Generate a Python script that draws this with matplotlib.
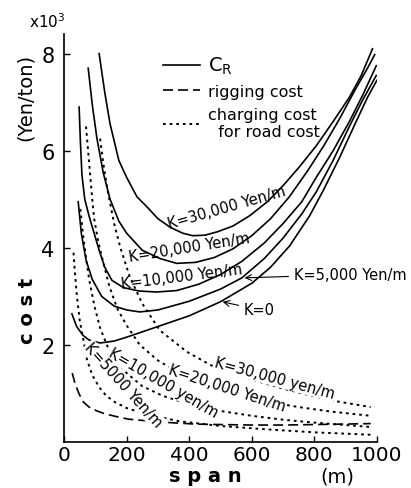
import matplotlib
matplotlib.use("Agg")
import matplotlib.pyplot as plt

# C_R curves (span in m, cost in 10^3 yen/ton)
cr_k0_x = [25, 40, 60, 80, 115, 160, 200, 300, 400, 500, 600, 660, 721, 785, 830, 880, 930, 970, 1000]
cr_k0_y = [2.64, 2.38, 2.2, 2.1, 2.04, 2.08, 2.16, 2.38, 2.6, 2.89, 3.27, 3.6, 4.04, 4.66, 5.2, 5.85, 6.55, 7.1, 7.45]

cr_k5_x = [45, 55, 70, 90, 120, 160, 200, 242, 300, 400, 500, 568, 640, 700, 760, 806, 860, 912, 955, 998]
cr_k5_y = [4.95, 4.3, 3.75, 3.35, 3.0, 2.8, 2.72, 2.68, 2.72, 2.9, 3.15, 3.38, 3.78, 4.2, 4.7, 5.15, 5.8, 6.5, 7.05, 7.55]

cr_k10_x = [48, 52, 57, 66, 80, 96, 112, 130, 153, 190, 240, 296, 360, 430, 500, 568, 640, 700, 760, 806, 860, 912, 955, 998]
cr_k10_y = [6.9, 6.2, 5.5, 5.0, 4.65, 4.3, 3.95, 3.6, 3.33, 3.18, 3.11, 3.09, 3.12, 3.25, 3.45, 3.72, 4.1, 4.5, 4.95, 5.45, 6.0, 6.6, 7.15, 7.75]

cr_k20_x = [77, 90, 105, 125, 147, 175, 200, 250, 306, 360, 420, 480, 540, 600, 660, 720, 780, 830, 880, 930, 970, 993]
cr_k20_y = [7.7, 6.95, 6.25, 5.55, 5.0, 4.55, 4.3, 3.95, 3.78, 3.68, 3.7, 3.8, 3.98, 4.25, 4.6, 5.05, 5.6, 6.1, 6.65, 7.25, 7.7, 7.98]

cr_k30_x = [112, 130, 147, 175, 200, 233, 264, 300, 340, 380, 411, 450, 490, 540, 593, 650, 700, 750, 806, 860, 912, 950, 986]
cr_k30_y = [8.0, 7.2, 6.55, 5.8, 5.45, 5.05, 4.85, 4.6, 4.42, 4.3, 4.25, 4.26, 4.33, 4.45, 4.66, 4.95, 5.28, 5.65, 6.1, 6.6, 7.1, 7.55, 8.1]

# rigging cost
rig_x = [26, 35, 48, 62, 80, 105, 131, 170, 207, 260, 313, 418, 500, 600, 700, 800, 900, 980]
rig_y = [1.42, 1.2, 0.99, 0.82, 0.72, 0.64, 0.58, 0.52, 0.47, 0.44, 0.41, 0.37, 0.36, 0.35, 0.35, 0.36, 0.37, 0.38]

# charging cost for road cost
ch_k5_x = [30, 35, 41, 50, 64, 73, 90, 112, 135, 163, 200, 258, 367, 500, 650, 800, 980]
ch_k5_y = [3.9, 3.45, 3.0, 2.5, 2.02, 1.7, 1.38, 1.13, 0.95, 0.82, 0.7, 0.58, 0.43, 0.33, 0.26, 0.2, 0.15]

ch_k10_x = [52, 60, 70, 80, 97, 115, 140, 163, 200, 250, 316, 400, 500, 600, 700, 800, 900, 980]
ch_k10_y = [4.8, 4.3, 3.8, 3.35, 2.8, 2.35, 1.95, 1.7, 1.42, 1.15, 0.95, 0.78, 0.64, 0.54, 0.46, 0.4, 0.35, 0.31]

ch_k20_x = [70, 80, 90, 96, 110, 125, 145, 170, 200, 242, 300, 360, 420, 480, 555, 650, 750, 850, 980]
ch_k20_y = [6.5, 5.75, 5.0, 4.6, 4.1, 3.7, 3.2, 2.75, 2.4, 2.0, 1.68, 1.45, 1.25, 1.1, 0.97, 0.83, 0.72, 0.63, 0.54]

ch_k30_x = [115, 125, 140, 160, 180, 210, 250, 306, 392, 470, 540, 620, 700, 800, 870, 980]
ch_k30_y = [6.25, 5.75, 5.15, 4.5, 4.0, 3.4, 2.85, 2.3, 1.86, 1.58, 1.42, 1.25, 1.1, 0.94, 0.84, 0.72]

xticks = [0, 200, 400, 600, 800, 1000]
yticks = [2, 4, 6, 8]

LW = 1.2
DASH = (0, (6, 3))
DOT = (0, (1.4, 2.0))

fig = plt.figure(figsize=(4.11, 4.89), dpi=100)
ax = fig.add_axes([0.156, 0.094, 0.761, 0.834])

# solid C_R
for xs, ys in [(cr_k0_x, cr_k0_y), (cr_k5_x, cr_k5_y), (cr_k10_x, cr_k10_y),
               (cr_k20_x, cr_k20_y), (cr_k30_x, cr_k30_y)]:
    ax.plot(xs, ys, color='black', lw=LW, ls='-')

ax.plot(rig_x, rig_y, color='black', lw=LW, ls=DASH)

for xs, ys in [(ch_k5_x, ch_k5_y), (ch_k10_x, ch_k10_y),
               (ch_k20_x, ch_k20_y), (ch_k30_x, ch_k30_y)]:
    ax.plot(xs, ys, color='black', lw=1.4, ls=DOT)

# legend
h1, = ax.plot([], [], color='black', lw=LW, ls='-')
h2, = ax.plot([], [], color='black', lw=LW, ls=DASH)
h3, = ax.plot([], [], color='black', lw=1.4, ls=DOT)
leg = ax.legend([h1, h2, h3], [r'C$_\mathrm{R}$', 'rigging cost', 'charging cost\n  for road cost'],
                loc='upper left', bbox_to_anchor=(0.27, 0.985), frameon=False,
                fontsize=11.5, handlelength=2.3, handletextpad=0.5, labelspacing=0.5)
leg.get_texts()[0].set_fontsize(14)

# labels on C_R curves
ax.text(520, 4.85, 'K=30,000 Yen/m', fontsize=10.5, rotation=16, ha='center', va='center')
ax.text(400, 4.02, 'K=20,000 Yen/m', fontsize=10.5, rotation=9, ha='center', va='center')
ax.text(376, 3.42, 'K=10,000 Yen/m', fontsize=10.5, rotation=7, ha='center', va='center')
ax.annotate('K=5,000 Yen/m', xy=(568, 3.38), xytext=(735, 3.45), fontsize=10.5,
            ha='left', va='center', annotation_clip=False,
            arrowprops=dict(arrowstyle='->', lw=0.8, color='black'))
ax.annotate('K=0', xy=(498, 2.9), xytext=(575, 2.72), fontsize=10.5,
            ha='left', va='center',
            arrowprops=dict(arrowstyle='->', lw=0.8, color='black'))

# labels on charging curves
bb = dict(facecolor='white', edgecolor='none', pad=0.5)
ax.text(673, 1.32, 'K=30,000 yen/m', fontsize=10.5, rotation=-15, ha='center', va='center', bbox=bb)
ax.text(520, 1.12, 'K=20,000 Yen/m', fontsize=10.5, rotation=-18, ha='center', va='center', bbox=bb)
ax.text(316, 1.22, 'K=10,000 yen/m', fontsize=10.5, rotation=-30, ha='center', va='center', bbox=bb)
ax.text(190, 1.18, 'K=5000 Yen/m', fontsize=10.5, rotation=-48, ha='center', va='center', bbox=bb)

ax.set_xlim(0, 1000)
ax.set_ylim(0, 8.4)
ax.set_xticks(xticks)
ax.set_yticks(yticks)
ax.set_xticklabels([str(t) for t in xticks], fontsize=14.5)
ax.set_yticklabels([str(t) for t in yticks], fontsize=15)
ax.tick_params(direction='in', length=4, width=1)
ax.tick_params(axis='x', pad=2)
ax.tick_params(axis='y', pad=7)
ax.spines['top'].set_visible(False)
ax.spines['right'].set_visible(False)
ax.spines['left'].set_linewidth(1.2)
ax.spines['bottom'].set_linewidth(1.2)

fig.text(0.115, 0.955, r'x10$^3$', fontsize=11, ha='center', va='center')
fig.text(0.062, 0.80, '(Yen/ton)', fontsize=14, rotation=90, ha='center', va='center')
fig.text(0.068, 0.364, 'c o s t', fontsize=14, fontweight='bold', rotation=90, ha='center', va='center')
fig.text(0.499, 0.025, 's p a n', fontsize=14, fontweight='bold', ha='center', va='center')
fig.text(0.822, 0.025, '(m)', fontsize=14, ha='center', va='center')

plt.savefig('out.png', dpi=100)
plt.close()
